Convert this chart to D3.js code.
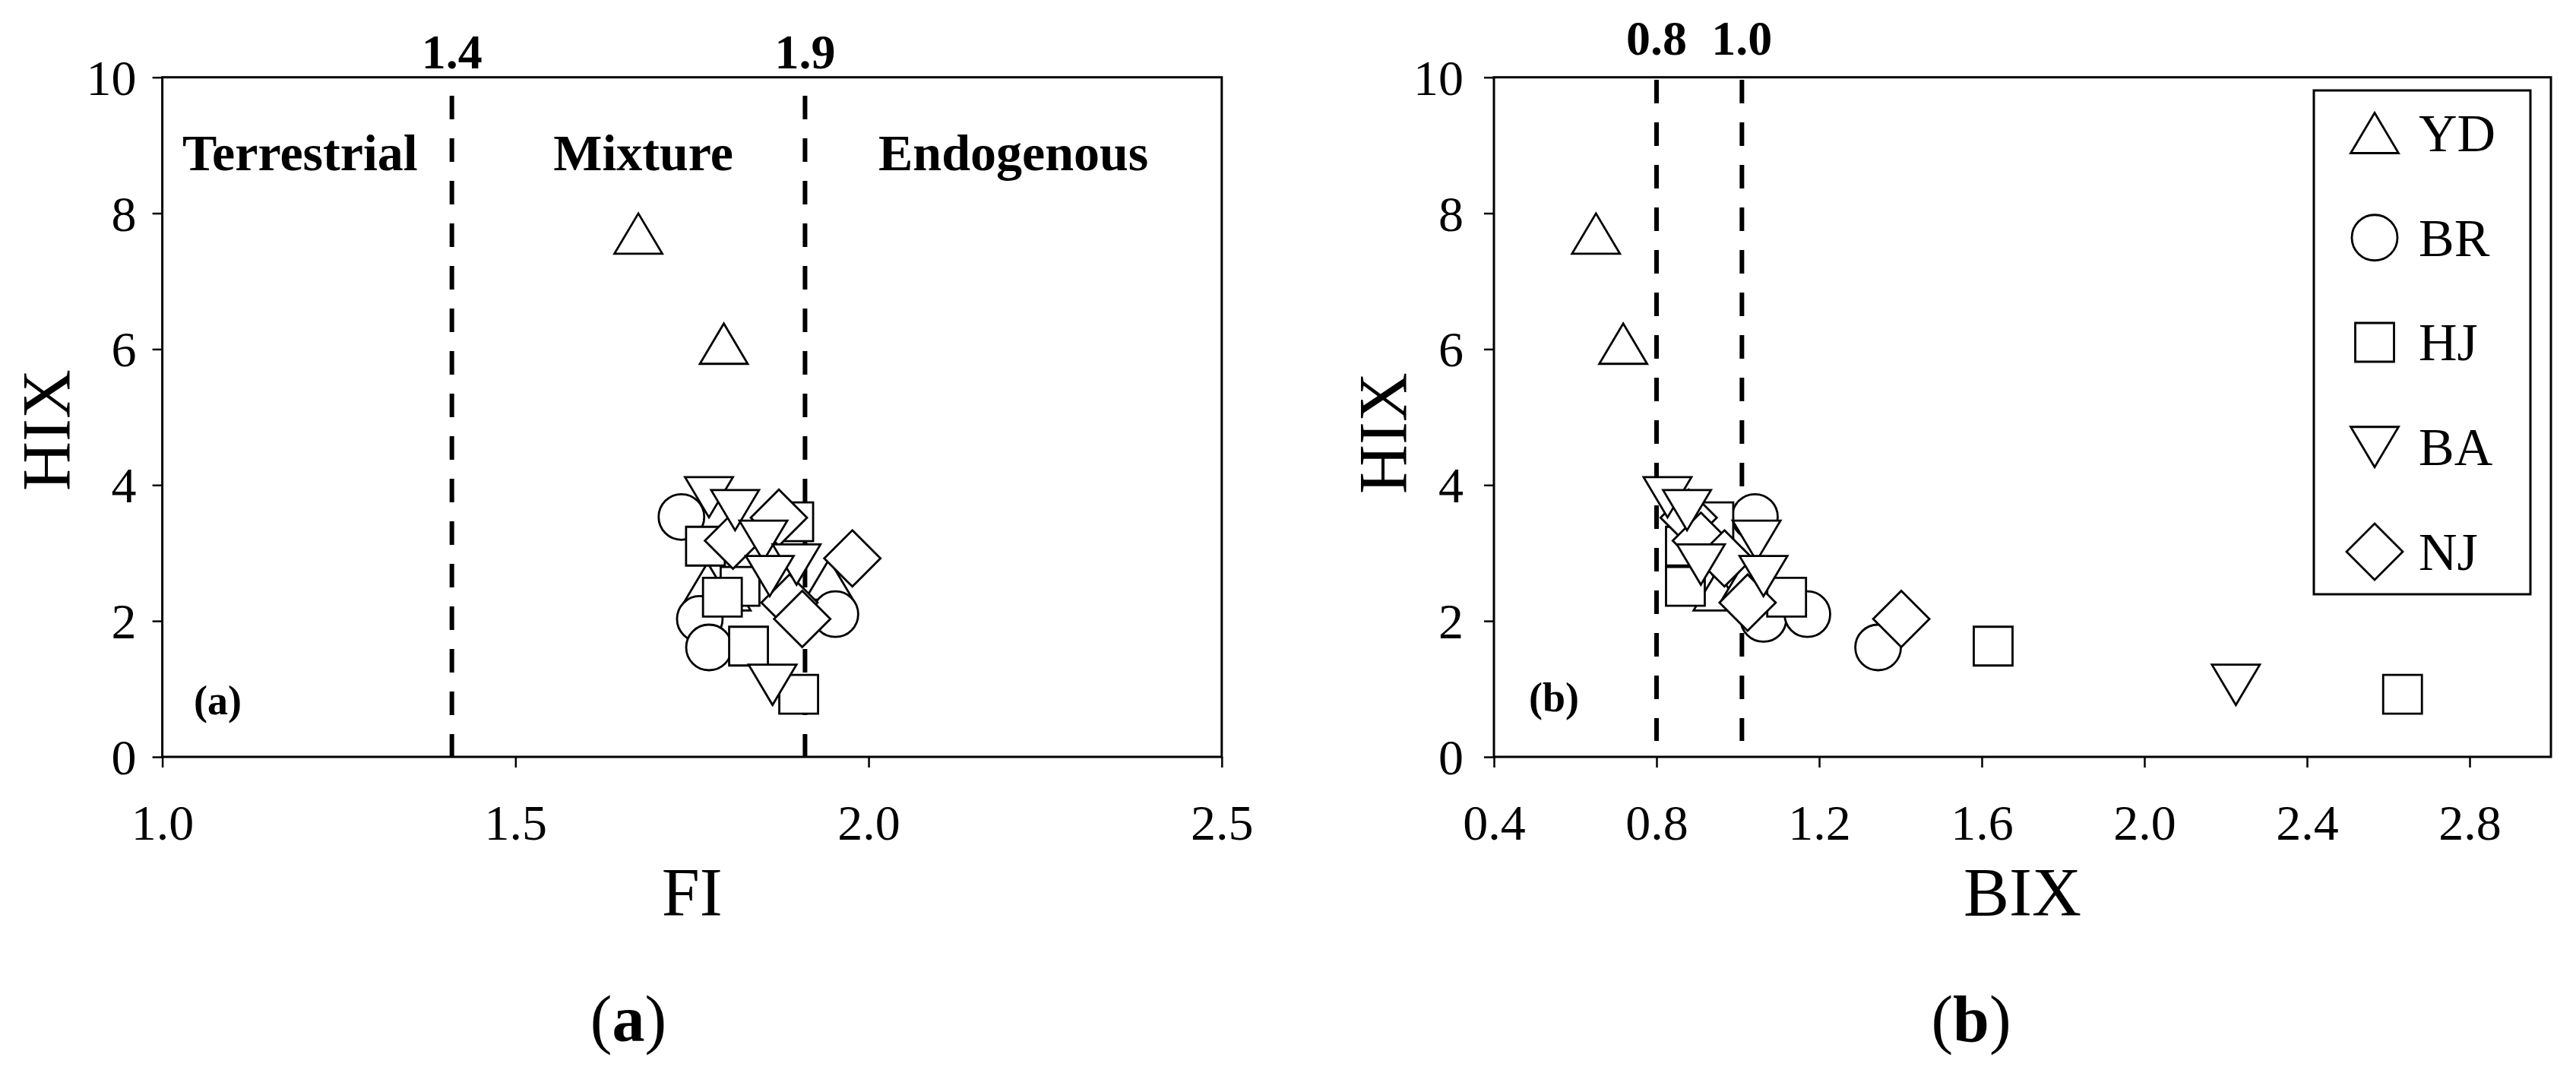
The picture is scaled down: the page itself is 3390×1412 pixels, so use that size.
<!DOCTYPE html>
<html>
<head>
<meta charset="utf-8">
<script src="https://cdn.jsdelivr.net/npm/d3@7"></script>
<style>
  body { margin: 0; background: #fff; }
  text { font-family: 'Liberation Serif', 'Times New Roman', serif; fill: #000; }
</style>
</head>
<body>
<svg id="chart" width="3390" height="1412"></svg>
<script>
// ---------------- DATA ----------------
const groups = ["YD", "BR", "HJ", "BA", "NJ"];
const groupShapes = ["triangleUp", "circle", "square", "triangleDown", "diamond"];
// order in which the series are painted (later = on top)
const drawOrder = ["YD", "BR", "HJ", "NJ", "BA"];

// HIX values (shared by both panels)
const HIX_YD = [7.70, 6.08, 2.56, 2.45, 2.61];
const HIX_BR = [3.53, 2.03, 1.61, 2.10];
const HIX_HJ = [3.46, 3.10, 2.51, 2.35, 1.63, 0.92];
const HIX_BA = [3.82, 3.63, 3.18, 2.83, 2.66, 1.06];
const HIX_NJ = [3.52, 3.18, 2.92, 2.27, 2.03];

// FI values (panel a)
const FI_YD = [1.674, 1.795, 1.772, 1.799, 1.944];
const FI_BR = [1.735, 1.761, 1.774, 1.953];
const FI_HJ = [1.894, 1.769, 1.818, 1.793, 1.830, 1.901];
const FI_BA = [1.774, 1.811, 1.851, 1.898, 1.860, 1.864];
const FI_NJ = [1.873, 1.808, 1.977, 1.888, 1.906];

// BIX values (panel b)
const BIX_YD = [0.651, 0.718, 0.92, 0.95, 1.02];
const BIX_BR = [1.042, 1.063, 1.345, 1.171];
const BIX_HJ = [0.941, 0.871, 0.871, 1.120, 1.628, 2.635];
const BIX_BA = [0.827, 0.875, 1.046, 0.909, 1.063, 2.225];
const BIX_NJ = [0.879, 0.909, 0.967, 1.024, 1.402];

// Axes
const fiTicks = [1.0, 1.5, 2.0, 2.5];
const bixTicks = [0.4, 0.8, 1.2, 1.6, 2.0, 2.4, 2.8];
const hixTicks = [0, 2, 4, 6, 8, 10];

// Reference lines
const fiRefValues = [1.41, 1.91];
const fiRefLabels = ["1.4", "1.9"];
const bixRefValues = [0.80, 1.01];
const bixRefLabels = ["0.8", "1.0"];

// Region labels (panel a)
const regionLabels = ["Terrestrial", "Mixture", "Endogenous"];
const regionFI = [1.195, 1.681, 2.205];
const regionHIX = 8.63;

const HIX = { YD: HIX_YD, BR: HIX_BR, HJ: HIX_HJ, BA: HIX_BA, NJ: HIX_NJ };
const FI = { YD: FI_YD, BR: FI_BR, HJ: FI_HJ, BA: FI_BA, NJ: FI_NJ };
const BIX = { YD: BIX_YD, BR: BIX_BR, HJ: BIX_HJ, BA: BIX_BA, NJ: BIX_NJ };

// ---------------- DRAW ----------------
const svg = d3.select("#chart");
svg.append("rect").attr("width", 3390).attr("height", 1412).attr("fill", "#fff");

const plotTop = 101.7, plotBottom = 996;
const y = d3.scaleLinear().domain([0, 10]).range([plotBottom, plotTop]);

function markerPath(shape) {
  const p = d3.path();
  const tw = 63, th = 53, s = 51, r = 30, d = 37;
  if (shape === "triangleUp") { p.moveTo(0, -th / 2); p.lineTo(tw / 2, th / 2); p.lineTo(-tw / 2, th / 2); p.closePath(); }
  else if (shape === "triangleDown") { p.moveTo(-tw / 2, -th / 2); p.lineTo(tw / 2, -th / 2); p.lineTo(0, th / 2); p.closePath(); }
  else if (shape === "square") { p.rect(-s / 2, -s / 2, s, s); }
  else if (shape === "circle") { p.moveTo(r, 0); p.arc(0, 0, r, 0, 2 * Math.PI); p.closePath(); }
  else if (shape === "diamond") { p.moveTo(0, -d); p.lineTo(d, 0); p.lineTo(0, d); p.lineTo(-d, 0); p.closePath(); }
  return p.toString();
}

function panel(cfg) {
  const x = d3.scaleLinear().domain(cfg.domain).range([cfg.left, cfg.right]);
  const g = svg.append("g");

  // axes
  const xAxis = d3.axisBottom(x).tickValues(cfg.ticks).tickSize(14).tickPadding(48)
    .tickFormat(d3.format(".1f"));
  const gx = g.append("g").attr("transform", `translate(0,${plotBottom})`).call(xAxis);
  const yAxis = d3.axisLeft(y).tickValues(hixTicks).tickSize(13).tickPadding(cfg.yPad)
    .tickFormat(d3.format("d"));
  const gy = g.append("g").attr("transform", `translate(${cfg.left},0)`).call(yAxis);
  [gx, gy].forEach(a => {
    a.select(".domain").remove();
    a.selectAll(".tick line").attr("stroke", "#000").attr("stroke-width", 2.5);
    a.selectAll(".tick text").style("font-size", "66px").attr("fill", "#000");
  });
  gy.selectAll(".tick text").attr("dy", "0.34em");

  // reference dashed lines
  g.selectAll(".ref").data(cfg.refValues).enter().append("line")
    .attr("x1", d => x(d)).attr("x2", d => x(d))
    .attr("y1", cfg.refTop).attr("y2", cfg.refBottom)
    .attr("stroke", "#000").attr("stroke-width", 6)
    .attr("stroke-dasharray", "31 25");
  g.selectAll(".reflab").data(cfg.refValues).enter().append("text")
    .attr("x", d => x(d)).attr("y", cfg.refLabelY)
    .attr("text-anchor", "middle").style("font-size", "64px").style("font-weight", "bold")
    .text((d, i) => cfg.refLabels[i]);

  // points
  drawOrder.forEach(grp => {
    const gi = groups.indexOf(grp);
    const xs = cfg.xData[grp], ys = HIX[grp];
    g.append("g").selectAll("path").data(xs.map((v, i) => [v, ys[i]])).enter().append("path")
      .attr("d", markerPath(groupShapes[gi]))
      .attr("transform", d => `translate(${x(d[0])},${y(d[1])})`)
      .attr("fill", "#fff").attr("stroke", "#000").attr("stroke-width", 2.8)
      .attr("stroke-linejoin", "miter");
  });

  // frame
  g.append("rect").attr("x", cfg.left).attr("y", plotTop)
    .attr("width", cfg.right - cfg.left).attr("height", plotBottom - plotTop)
    .attr("fill", "none").attr("stroke", "#000").attr("stroke-width", 3);

  // axis titles
  g.append("text").attr("x", (cfg.left + cfg.right) / 2).attr("y", 1205)
    .attr("text-anchor", "middle").style("font-size", "90px").text(cfg.xTitle);
  g.append("text").attr("transform", `translate(${cfg.yTitleX},${cfg.yTitleY}) rotate(-90)`)
    .attr("text-anchor", "middle").style("font-size", "90px").text("HIX");

  // inner panel tag
  g.append("text").attr("x", cfg.tagX).attr("y", cfg.tagY)
    .style("font-size", "54px").style("font-weight", "bold").text(cfg.tag);

  // caption below
  const cap = g.append("text").attr("x", cfg.captionX).attr("y", 1370)
    .attr("text-anchor", "middle").style("font-size", "86px");
  cap.append("tspan").text("(");
  cap.append("tspan").style("font-weight", "bold").text(cfg.captionLetter);
  cap.append("tspan").text(")");
  return { g, x };
}

const pa = panel({
  left: 213.6, right: 1607.8, domain: [1.0, 2.5], ticks: fiTicks, xData: FI,
  refValues: fiRefValues, refLabels: fiRefLabels, refTop: 126, refBottom: 996, refLabelY: 90,
  xTitle: "FI", yTitleX: 92, yTitleY: 566, yPad: 21,
  tag: "(a)", tagX: 255, tagY: 940, captionX: 827, captionLetter: "a"
});

// region labels in panel a
pa.g.selectAll(".region").data(regionLabels).enter().append("text")
  .attr("x", (d, i) => pa.x(regionFI[i])).attr("y", y(regionHIX))
  .attr("text-anchor", "middle").style("font-size", "68px").style("font-weight", "bold")
  .text(d => d);

const pb = panel({
  left: 1966, right: 3357, domain: [0.4, 3.0], ticks: bixTicks, xData: BIX,
  refValues: bixRefValues, refLabels: bixRefLabels, refTop: 105, refBottom: 975, refLabelY: 72,
  xTitle: "BIX", yTitleX: 1851, yTitleY: 570, yPad: 27,
  tag: "(b)", tagX: 2012, tagY: 936, captionX: 2594, captionLetter: "b"
});

// legend (panel b)
const legX = 3045, legY = 119, legW = 285, legH = 663;
const leg = svg.append("g");
leg.append("rect").attr("x", legX).attr("y", legY).attr("width", legW).attr("height", legH)
  .attr("fill", "#fff").attr("stroke", "#000").attr("stroke-width", 3);
const legStep = 137.75, legFirst = 175;
groups.forEach((grp, i) => {
  const cy = legFirst + i * legStep;
  leg.append("path").attr("d", markerPath(groupShapes[i]))
    .attr("transform", `translate(3125,${cy})`)
    .attr("fill", "#fff").attr("stroke", "#000").attr("stroke-width", 2.8);
  leg.append("text").attr("x", 3183).attr("y", cy).attr("dy", "0.34em")
    .style("font-size", "70px").text(grp);
});
</script>
</body>
</html>
